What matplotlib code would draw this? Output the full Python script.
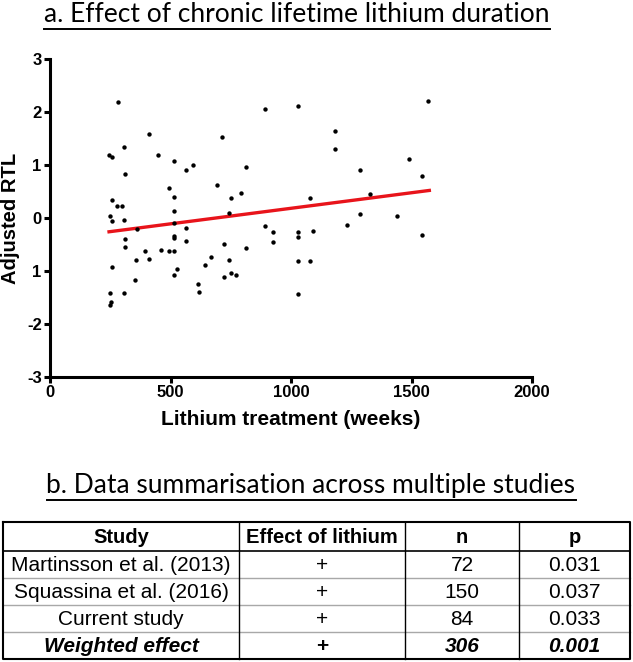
import numpy as np
import matplotlib
matplotlib.use("Agg")
from matplotlib import pyplot as plt

# scatter: lithium treatment (weeks) vs adjusted RTL
weeks = [284, 246, 257, 309, 313, 259, 277, 299, 248, 259, 309, 360, 310, 310,
         259, 356, 396, 412, 353, 248, 309, 255, 248, 412, 447, 462, 494, 515,
         495, 515, 515, 515, 515, 515, 515, 525, 515, 565, 594, 565, 565, 616,
         617, 644, 668, 694, 713, 723, 720, 742, 750, 742, 752, 772, 792, 812,
         812, 891, 893, 926, 926, 1030, 1030, 1030, 1030, 1030, 1080, 1092, 1080,
         1183, 1183, 1286, 1326, 1286, 1233, 1439, 1491, 1542, 1568, 1542]
rtl = [2.19, 1.19, 1.15, 1.34, 0.83, 0.34, 0.23, 0.23, 0.04, -0.06, -0.03, -0.20,
       -0.40, -0.54, -0.93, -0.79, -0.63, -0.77, -1.17, -1.41, -1.41, -1.58, -1.64,
       1.59, 1.19, -0.61, -0.62, -0.62, 0.57, 1.07, 0.39, 0.13, -0.09, -0.34, -0.37,
       -0.96, -1.07, 0.91, 1.00, -0.18, -0.44, -1.24, -1.40, -0.89, -0.73, 0.62,
       1.53, -0.49, -1.11, -0.80, 0.38, 0.09, -1.04, -1.07, 0.48, 0.96, -0.57, 2.06,
       -0.15, -0.27, -0.45, 2.11, -0.26, -0.35, -0.81, -1.43, 0.37, -0.25, -0.81,
       1.65, 1.31, 0.90, 0.45, 0.07, -0.13, 0.03, 1.12, 0.79, 2.21, -0.33]

# regression line as drawn in the figure
trend_weeks = [245, 1574]
trend_rtl = [-0.26, 0.52]

x_ticks = [0, 500, 1000, 1500, 2000]
y_ticks = [-3, -2, -1, 0, 1, 2, 3]
y_tick_labels = ["-3", "-2", "1", "0", "1", "2", "3"]

# summary table
col_labels = ["Study", "Effect of lithium", "n", "p"]
studies = ["Martinsson et al. (2013)", "Squassina et al. (2016)", "Current study", "Weighted effect"]
effects = ["+", "+", "+", "+"]
n_values = ["72", "150", "84", "306"]
p_values = ["0.031", "0.037", "0.033", "0.001"]

W, H = 633, 662
fig = plt.figure(figsize=(W / 100, H / 100), dpi=100)

ax = fig.add_axes([50 / W, 1 - 377 / H, 482 / W, 318 / H])
ax.scatter(weeks, rtl, s=10, color="black", zorder=3, linewidths=0)
ax.plot(trend_weeks, trend_rtl, color="#e8141b", linewidth=2.4, zorder=2)
ax.set_xlim(0, 2000)
ax.set_ylim(-3, 3)
ax.set_xticks(x_ticks)
ax.set_yticks(y_ticks)
ax.set_yticklabels(y_tick_labels)
for side in ["top", "right"]:
    ax.spines[side].set_visible(False)
for side in ["left", "bottom"]:
    ax.spines[side].set_linewidth(2.2)
ax.tick_params(width=2.2, length=4, labelsize=12, pad=2)
for lab in ax.get_xticklabels() + ax.get_yticklabels():
    lab.set_fontweight("bold")
    lab.set_family("Liberation Sans")
ax.set_xlabel("Lithium treatment (weeks)", fontsize=15, fontweight="bold",
              family="Liberation Sans", labelpad=7)
ax.set_ylabel("Adjusted RTL", fontsize=14.5, fontweight="bold",
              family="Liberation Sans", labelpad=5)

# overlay for titles and table, in pixel coordinates
ov = fig.add_axes([0, 0, 1, 1])
ov.set_xlim(0, W)
ov.set_ylim(H, 0)
ov.axis("off")

renderer = fig.canvas.get_renderer()
for text, yc, uy in [("a. Effect of chronic lifetime lithium duration", 15, 29),
                     ("b. Data summarisation across multiple studies", 485, 500)]:
    t = ov.text(297 if text.startswith("a") else 311, yc, text, fontsize=19, family="Lato",
                ha="center", va="center")
    bb = t.get_window_extent(renderer)
    x0, x1 = bb.x0 * W / fig.bbox.width, bb.x1 * W / fig.bbox.width
    ov.plot([x0, x1], [uy, uy], color="black", linewidth=1.4)

col_edges = [3, 239, 405, 519, 630]
row_edges = [522, 551, 578, 605, 632, 659]

for y in row_edges[2:-1]:
    ov.plot([col_edges[0], col_edges[-1]], [y, y], color="#a8a8a8", linewidth=1.0)
ov.plot([col_edges[0], col_edges[-1]], [row_edges[1], row_edges[1]], color="black", linewidth=1.2)
for x in col_edges[1:-1]:
    ov.plot([x, x], [row_edges[0], row_edges[-1]], color="black", linewidth=1.0)
ov.plot([col_edges[0], col_edges[-1], col_edges[-1], col_edges[0], col_edges[0]],
        [row_edges[0], row_edges[0], row_edges[-1], row_edges[-1], row_edges[0]],
        color="black", linewidth=1.5)

centers = [(col_edges[i] + col_edges[i + 1]) / 2 for i in range(4)]
for i, lab in enumerate(col_labels):
    ov.text(centers[i], (row_edges[0] + row_edges[1]) / 2 + 1, lab, ha="center", va="center",
            fontsize=14.5, fontweight="bold", family="Liberation Sans")
rows = list(zip(studies, effects, n_values, p_values))
for r, row in enumerate(rows):
    yc = (row_edges[r + 1] + row_edges[r + 2]) / 2 + 1
    last = r == len(rows) - 1
    for c, val in enumerate(row):
        ov.text(centers[c], yc, val, ha="center", va="center", fontsize=15,
                family="Liberation Sans",
                fontweight="bold" if last else "normal",
                fontstyle="italic" if (last and c != 1) else "normal")

fig.savefig("out.png", dpi=100)
